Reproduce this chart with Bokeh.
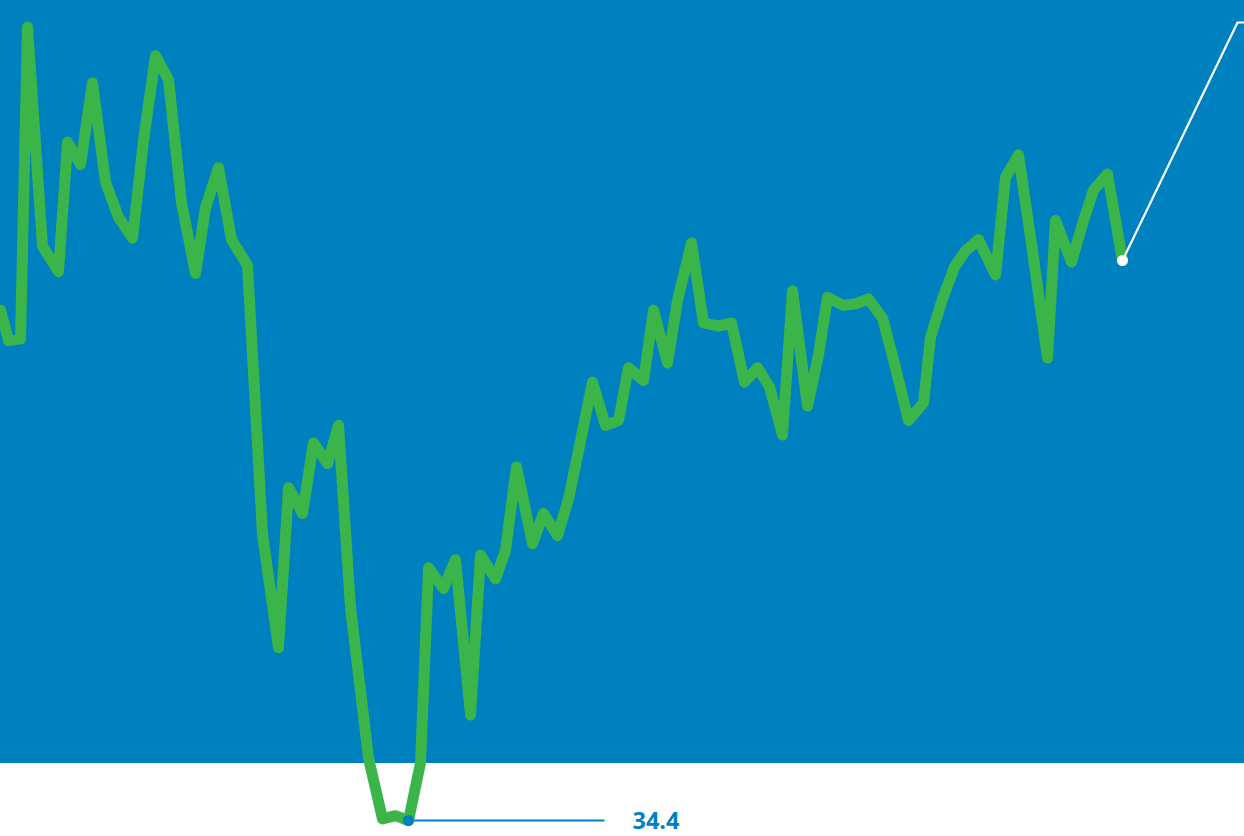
from bokeh.plotting import figure
from bokeh.models import BoxAnnotation, Range1d
from bokeh.embed import file_html
from bokeh.resources import INLINE
from bokeh.core.properties import value

# ---- data (time index, index value) ----
t = [0, 4, 10, 13.5, 21, 29, 33.5, 40, 46, 52.5, 59, 66, 71.5, 77.5, 84, 90.5,
     97.5, 102.5, 109, 115.5, 123.5, 131, 139, 144, 151, 156.5, 163.5, 169, 175,
     184, 191, 197.5, 204, 210, 214, 221.5, 227.5, 235, 240, 247.5, 252.5, 258,
     266, 271.5, 278.5, 284, 289, 296, 302.5, 309, 314, 321.5, 326.5, 333.5,
     338.5, 345.5, 351.5, 359, 365.5, 372, 378.5, 384.5, 391, 396, 403.5, 409,
     413.5, 421.5, 428, 434, 441, 446.5, 454, 461.5, 465, 471, 477, 482.5, 489,
     497.5, 502.5, 509, 516, 523.5, 527.5, 535.5, 541, 546.5, 553.5, 561]
v = [66.3, 64.4, 64.5, 84.0, 70.3, 68.7, 76.8, 75.4, 80.5, 74.3, 72.1, 70.8,
     76.9, 82.2, 80.7, 73.0, 68.6, 72.7, 75.2, 70.7, 69.1, 52.3, 45.2, 55.2,
     53.6, 58.0, 56.7, 59.1, 47.7, 38.3, 34.5, 34.7, 34.4, 38.0, 50.2, 48.9,
     50.7, 41.0, 51.0, 49.5, 51.3, 56.5, 51.7, 53.6, 52.2, 54.5, 57.5, 61.8,
     59.1, 59.4, 62.7, 61.9, 66.3, 63.0, 66.9, 70.5, 65.5, 65.3, 65.5, 61.8,
     62.7, 61.5, 58.5, 67.5, 60.3, 63.5, 67.1, 66.6, 66.7, 67.0, 65.8, 63.2,
     59.4, 60.5, 64.6, 67.0, 69.0, 70.0, 70.7, 68.5, 74.6, 76.0, 70.0, 63.3,
     71.9, 69.3, 71.7, 73.8, 74.8, 69.4]
band_floor = 38.0
y_lo, y_hi = 33.4, 85.65
x_lo, x_hi = 0, 622

BLUE = "#0081BF"
GREEN = "#3BB44A"

W, H = 1244, 836
# one extra pixel on every side (shifted off-page) so no edge seam shows
dx = (x_hi - x_lo) / W
dy = (y_hi - y_lo) / H
p = figure(width=W + 2, height=H + 2, output_backend="svg", toolbar_location=None,
           x_range=Range1d(x_lo - dx, x_hi + dx), y_range=Range1d(y_lo - dy, y_hi + dy),
           min_border=0, outline_line_color=None,
           background_fill_color=BLUE, border_fill_color=BLUE)
p.axis.visible = False
p.grid.visible = False

# white strip below the blue band
p.add_layout(BoxAnnotation(top=band_floor, fill_color="white", fill_alpha=1.0,
                           line_color=None, level="underlay"))

# minimum marker + leader + label
i_min = v.index(min(v))
xm, ym = t[i_min], v[i_min]
p.line([xm, xm + 98], [ym, ym], line_color=BLUE, line_width=2)

p.line(t, v, line_color=GREEN, line_width=11, line_join="round", line_cap="round")

p.scatter([xm], [ym], size=11, fill_color=BLUE, line_color=None)
p.text([xm + 112], [ym], text=[f"{ym:.1f}"], text_color=BLUE,
       text_font=value("Open Sans"), text_font_style="bold",
       text_font_size="23.5px", text_baseline="middle", text_align="left")

# last point leader to top right
xl, yl = t[-1], v[-1]
top = y_hi - 22 * dy
p.line([xl, xl + 57.5, xl + 80], [yl, top, top], line_color="white", line_width=2.2)
p.scatter([xl], [yl], size=11, fill_color="white", line_color=None)

html = file_html(p, INLINE)
html = html.replace(
    "<head>",
    "<head><style>html{margin:0;padding:0;overflow:hidden;background:#fff;}"
    "body{margin:0;padding:0;width:1260px;transform:translate(-1px,-1px);}</style>", 1)
open("out.html", "w").write(html)
